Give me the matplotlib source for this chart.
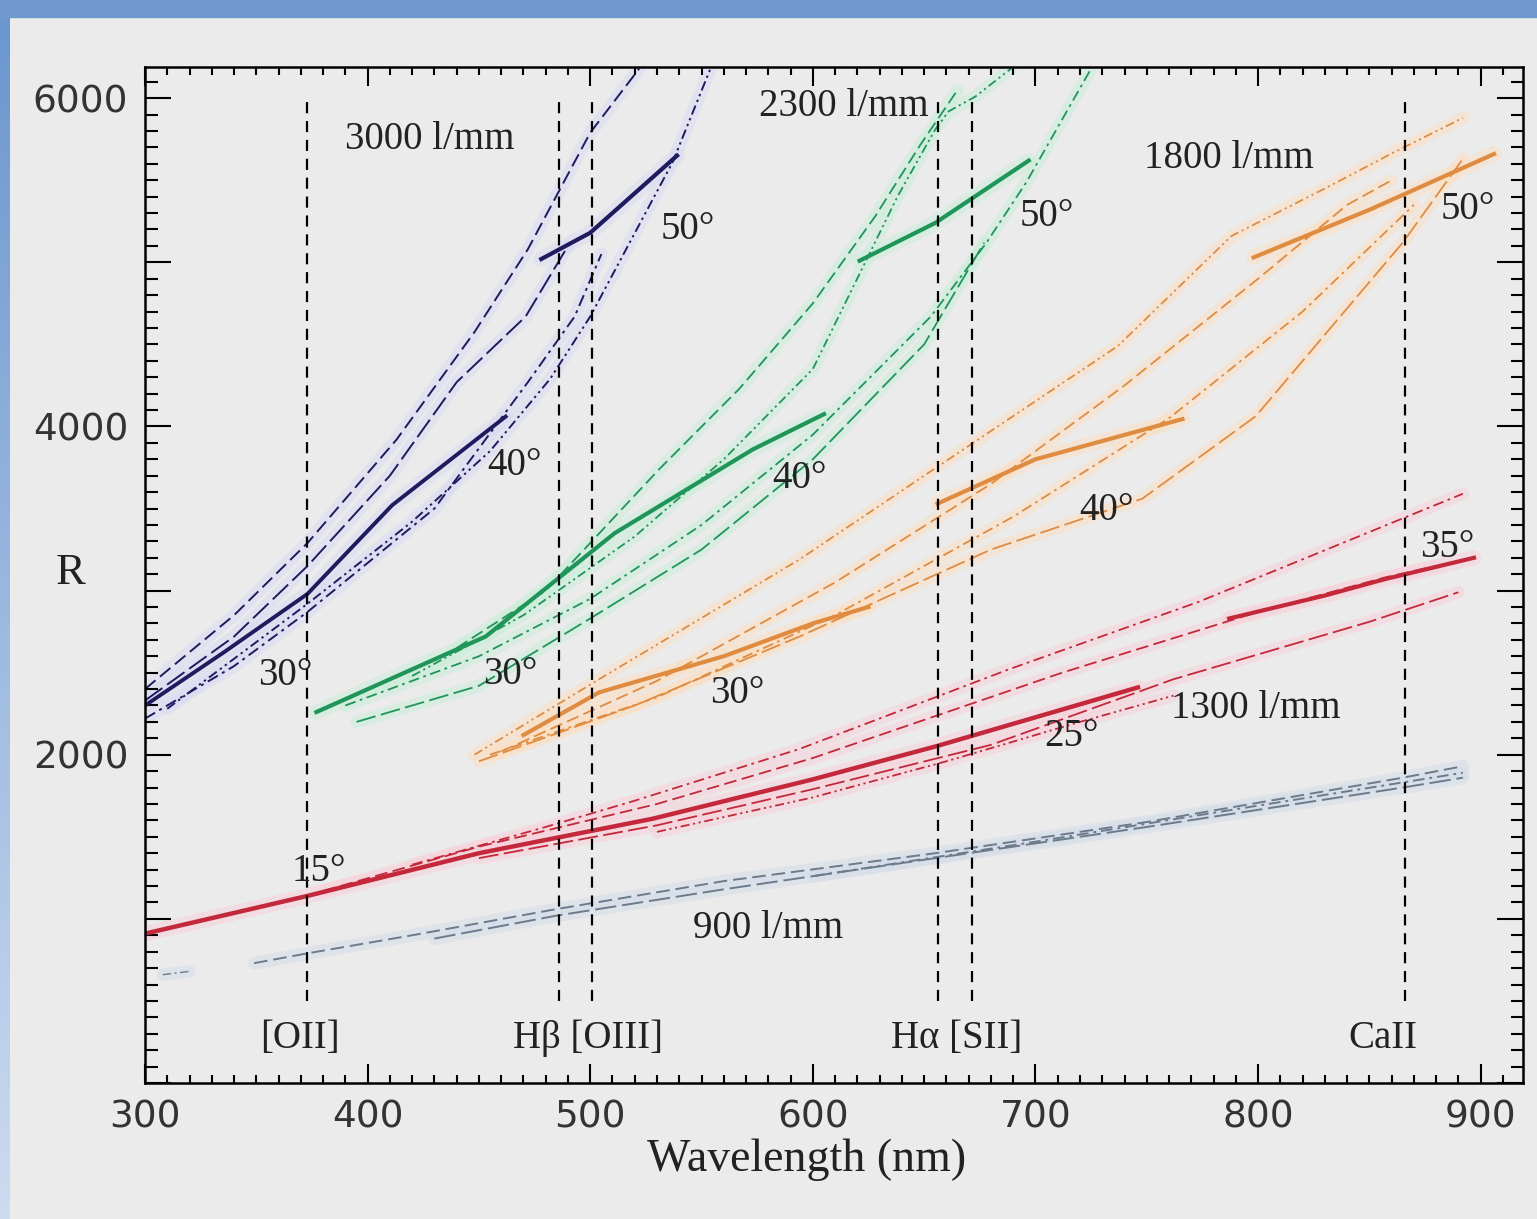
import numpy as np
import matplotlib.pyplot as plt
from matplotlib.ticker import MultipleLocator, FuncFormatter
from matplotlib.patches import Rectangle

# emission lines (nm) and their labels
line_wl = [372.7, 486.1, 500.7, 656.3, 671.6, 866.2]
line_r = [500, 6000]
line_label_text = ['[OII]', 'Hβ [OIII]', 'Hα [SII]', 'CaII']
line_label_wl = [369.5, 499, 664.6, 856]
line_label_r = 270

# 3000 l/mm
wl_3000 = [
    [300, 340, 373, 413, 448, 472, 500, 522],
    [300, 340, 373, 410, 440, 471, 490],
    [300, 335, 373, 411, 462],
    [300, 340, 373, 430, 472, 493, 505],
    [310, 373, 420, 455, 482, 500, 537, 554],
    [478, 500, 539],
]
r_3000 = [
    [2400, 2850, 3290, 3920, 4575, 5080, 5790, 6180],
    [2330, 2720, 3150, 3700, 4270, 4670, 5100],
    [2300, 2620, 2980, 3520, 4060],
    [2220, 2540, 2870, 3500, 4270, 4670, 5050],
    [2280, 2920, 3420, 3850, 4290, 4670, 5610, 6180],
    [5020, 5180, 5650],
]

# 2300 l/mm
wl_2300 = [
    [440, 480, 531, 567, 600, 628, 648, 665],
    [420, 470, 520, 560, 600, 638, 655, 661, 673, 689],
    [390, 450, 500, 550, 600, 653, 678, 696, 725],
    [377, 453, 511, 573, 605],
    [395, 450, 500, 550, 600, 650, 677],
    [621, 655, 697],
]
r_2300 = [
    [2650, 3000, 3740, 4230, 4750, 5280, 5710, 6050],
    [2480, 2850, 3330, 3800, 4350, 5400, 5810, 5920, 6010, 6180],
    [2300, 2600, 2950, 3400, 3950, 4670, 5120, 5490, 6180],
    [2260, 2720, 3350, 3860, 4075],
    [2200, 2420, 2830, 3250, 3800, 4500, 5120],
    [5010, 5240, 5620],
]

# 1800 l/mm
wl_1800 = [
    [448, 504, 594, 661, 737, 788, 830, 861, 892],
    [460, 530, 610, 680, 740, 800, 840, 860],
    [455, 530, 610, 690, 760, 820, 870],
    [450, 520, 594, 680, 748, 799, 865, 892],
    [470, 504, 560, 600, 625],
    [656, 700, 766],
    [798, 850, 906],
]
r_1800 = [
    [2000, 2460, 3190, 3800, 4490, 5160, 5450, 5670, 5880],
    [2020, 2450, 3050, 3650, 4250, 4900, 5350, 5500],
    [2000, 2350, 2850, 3450, 4050, 4700, 5350],
    [1960, 2300, 2720, 3250, 3560, 4063, 5120, 5630],
    [2120, 2380, 2600, 2800, 2900],
    [3530, 3800, 4045],
    [5030, 5320, 5660],
]

# 1300 l/mm
wl_1300 = [
    [420, 480, 520, 594, 688, 773, 865, 892],
    [380, 450, 530, 600, 712, 800, 857, 880],
    [450, 530, 600, 680, 762, 850, 890],
    [530, 600, 660, 720, 762],
    [300, 373, 450, 528, 600, 655, 746],
    [787, 830, 857, 897],
]
r_1300 = [
    [1330, 1560, 1720, 2035, 2520, 2930, 3440, 3590],
    [1170, 1440, 1700, 1980, 2500, 2870, 3080, 3150],
    [1370, 1570, 1790, 2060, 2460, 2810, 2990],
    [1530, 1740, 1960, 2200, 2360],
    [910, 1140, 1400, 1610, 1850, 2050, 2410],
    [2830, 2970, 3070, 3200],
]

# 900 l/mm
wl_900 = [
    [349, 373, 420, 485, 560, 655, 750, 865, 892],
    [430, 485, 560, 655, 750, 865, 892],
    [600, 700, 800, 892],
    [308, 320],
]
r_900 = [
    [730, 790, 900, 1060, 1230, 1400, 1590, 1860, 1930],
    [880, 1020, 1180, 1370, 1560, 1800, 1860],
    [1260, 1470, 1690, 1890],
    [660, 680],
]

# angle / grating labels
ann_text = ['3000 l/mm', '50°', '40°', '30°', '2300 l/mm', '50°', '40°', '30°',
            '1800 l/mm', '50°', '40°', '30°', '35°', '1300 l/mm', '25°', '15°', '900 l/mm']
ann_wl = [428, 544, 466, 363, 614, 705, 594, 464, 787, 894, 732, 566, 885, 799, 716, 378, 580]
ann_r = [5750, 5200, 3760, 2480, 5950, 5280, 3680, 2490, 5630, 5320, 3490, 2370, 3265, 2280, 2110, 1290, 940]

plt.rcParams['font.family'] = ['Liberation Serif', 'DejaVu Serif']

bg = '#ebebeb'
fig = plt.figure(figsize=(15.37, 12.19), dpi=100, facecolor=bg)

# slide frame: blue strip on top, gradient on the left
fig.patches.append(Rectangle((0, 1 - 17 / 1219), 1, 17 / 1219, transform=fig.transFigure,
                             color='#7099cf', zorder=0))
strip = fig.add_axes([0, 0, 10 / 1537, 1 - 17 / 1219])
grad = np.linspace(0, 1, 256)[:, None]
top_c = np.array([0.42, 0.59, 0.81])
bot_c = np.array([0.80, 0.86, 0.94])
strip.imshow(top_c + grad[..., None] * (bot_c - top_c), aspect='auto')
strip.axis('off')

ax = fig.add_axes([145 / 1537, 1 - 1083 / 1219, (1523 - 145) / 1537, (1083 - 67) / 1219])
ax.set_facecolor(bg)


def draw(wls, rs, styles, widths, color, halo):
    for wl, r, st, w in zip(wls, rs, styles, widths):
        ax.plot(wl, r, color=halo, lw=w + 8, alpha=0.55, solid_capstyle='round', zorder=1)
    for wl, r, st, w in zip(wls, rs, styles, widths):
        ax.plot(wl, r, color=color, lw=w, linestyle=st, zorder=2)


dash = (0, (7, 3))
dashdot = (0, (6, 2.5, 1.5, 2.5))
dashdot3 = (0, (5, 2, 1.2, 2, 1.2, 2))
longdash = (0, (11, 3))

draw(wl_3000, r_3000, [dash, longdash, '-', dashdot, dashdot3, '-'],
     [1.4, 1.4, 2.8, 1.4, 1.4, 3.0], '#1e1b5e', '#dadaf4')
draw(wl_2300, r_2300, [dash, dashdot3, dashdot, '-', longdash, '-'],
     [1.3, 1.3, 1.3, 3.0, 1.3, 3.0], '#1f955a', '#caeed9')
draw(wl_1800, r_1800, [dashdot3, dash, dashdot, longdash, '-', '-', '-'],
     [1.3, 1.3, 1.3, 1.3, 3.0, 3.0, 3.0], '#e08c40', '#fbe0c4')
draw(wl_1300, r_1300, [dashdot, dash, longdash, dashdot3, '-', '-'],
     [1.3, 1.3, 1.3, 1.3, 3.2, 3.0], '#c3283b', '#f7d2d9')
draw(wl_900, r_900, [dash, longdash, dashdot, dashdot],
     [1.4, 1.4, 1.4, 1.0], '#6b7b8c', '#d5dde8')

for wl in line_wl:
    ax.plot([wl, wl], line_r, color='black', lw=1.6, linestyle=(0, (5, 3.5)), zorder=3)

for txt, wl in zip(line_label_text, line_label_wl):
    ax.text(wl, line_label_r, txt, ha='center', va='center', fontsize=28, color='#222222', zorder=4)

for txt, wl, r in zip(ann_text, ann_wl, ann_r):
    ax.text(wl, r, txt, ha='center', va='center', fontsize=28, color='#222222', zorder=4)

ax.set_xlim(300, 919)
ax.set_ylim(0, 6190)
ax.xaxis.set_major_locator(MultipleLocator(100))
ax.xaxis.set_minor_locator(MultipleLocator(10))
ax.yaxis.set_major_locator(MultipleLocator(1000))
ax.yaxis.set_minor_locator(MultipleLocator(100))
ax.yaxis.set_major_formatter(FuncFormatter(lambda v, p: str(int(v)) if int(v) in (2000, 4000, 6000) else ''))

ax.tick_params(which='both', direction='in', top=True, right=True, width=1.5, color='black')
ax.tick_params(axis='x', which='major', length=14, pad=12)
ax.tick_params(axis='x', which='minor', length=6)
ax.tick_params(axis='y', which='major', length=19, pad=12)
ax.tick_params(axis='y', which='minor', length=9)
for lab in ax.get_xticklabels() + ax.get_yticklabels():
    lab.set_fontfamily('DejaVu Sans')
    lab.set_fontsize(27)
    lab.set_color('#333333')
for sp in ax.spines.values():
    sp.set_linewidth(1.8)

ax.set_xlabel('Wavelength (nm)', fontsize=33, color='#222222')
ax.xaxis.set_label_coords(0.48, -0.076)
ax.xaxis.label.set_va('center')
ax.set_ylabel('R', fontsize=32, rotation=0, color='#222222')
ax.yaxis.set_label_coords(-0.054, 0.502)
ax.yaxis.label.set_va('center')
ax.yaxis.label.set_ha('center')

fig.savefig('out.png', dpi=100, facecolor=bg)
